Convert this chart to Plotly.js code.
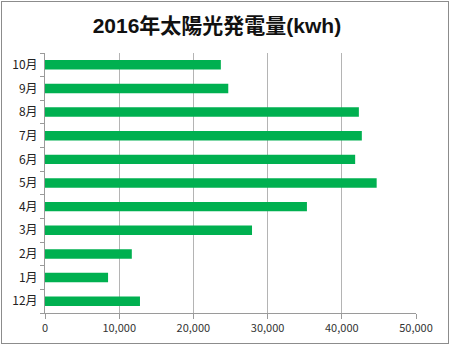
<!DOCTYPE html>
<html>
<head>
<meta charset="utf-8">
<script src="https://cdn.plot.ly/plotly-3.0.1.min.js"></script>
<style>
html,body{margin:0;padding:0;background:#fff;}
#wrap{position:relative;width:450px;height:347px;overflow:hidden;}
#chart{position:absolute;left:0;top:0;width:450px;height:347px;}
#frame{position:absolute;left:1px;top:1px;width:448px;height:343px;box-sizing:border-box;border:1px solid #8c8c8c;pointer-events:none;}
</style>
</head>
<body>
<div id="wrap"><div id="chart"></div><div id="frame"></div></div>
<script>
const months = ['12月','1月','2月','3月','4月','5月','6月','7月','8月','9月','10月'];
const kwh = [12800, 8500, 11700, 27900, 35300, 44700, 41800, 42700, 42300, 24700, 23700];
const xTicks = [0, 10000, 20000, 30000, 40000, 50000];
const chartTitle = '2016年太陽光発電量(kwh)';

const font = '"Noto Sans CJK JP", "Noto Sans", sans-serif';
const titleFont = '"Liberation Sans", Arial, "Noto Sans CJK JP", sans-serif';

Plotly.newPlot('chart', [{
  type: 'bar',
  orientation: 'h',
  y: months,
  x: kwh,
  width: 0.4,
  marker: {color: '#00B050'},
  hoverinfo: 'x+y'
}], {
  width: 450, height: 347,
  margin: {l: 44.5, r: 34, t: 53, b: 34, pad: 0},
  paper_bgcolor: '#ffffff',
  plot_bgcolor: '#ffffff',
  showlegend: false,
  title: {
    text: '<b>' + chartTitle + '</b>',
    x: 0.482, xanchor: 'center',
    y: 1 - 25.5/347, yanchor: 'middle',
    font: {family: titleFont, size: 21, color: '#111'}
  },
  xaxis: {
    range: [0, 50000],
    tickvals: xTicks,
    tickformat: ',d',
    showgrid: true, gridcolor: '#b4b4b4', gridwidth: 1,
    zeroline: false,
    showline: true, linecolor: '#9a9a9a', linewidth: 1,
    ticks: 'outside', ticklen: 5, tickcolor: '#9a9a9a',
    tickfont: {family: font, size: 11, color: '#333'},
    fixedrange: true
  },
  yaxis: {
    type: 'category',
    categoryorder: 'array', categoryarray: months,
    tickson: 'boundaries',
    showgrid: false,
    showline: true, linecolor: '#9a9a9a', linewidth: 1,
    ticks: 'outside', ticklen: 4, tickcolor: '#9a9a9a',
    ticklabelstandoff: 4,
    tickfont: {family: font, size: 12, color: '#222'},
    fixedrange: true
  }
}, {staticPlot: true, displayModeBar: false});
</script>
</body>
</html>
